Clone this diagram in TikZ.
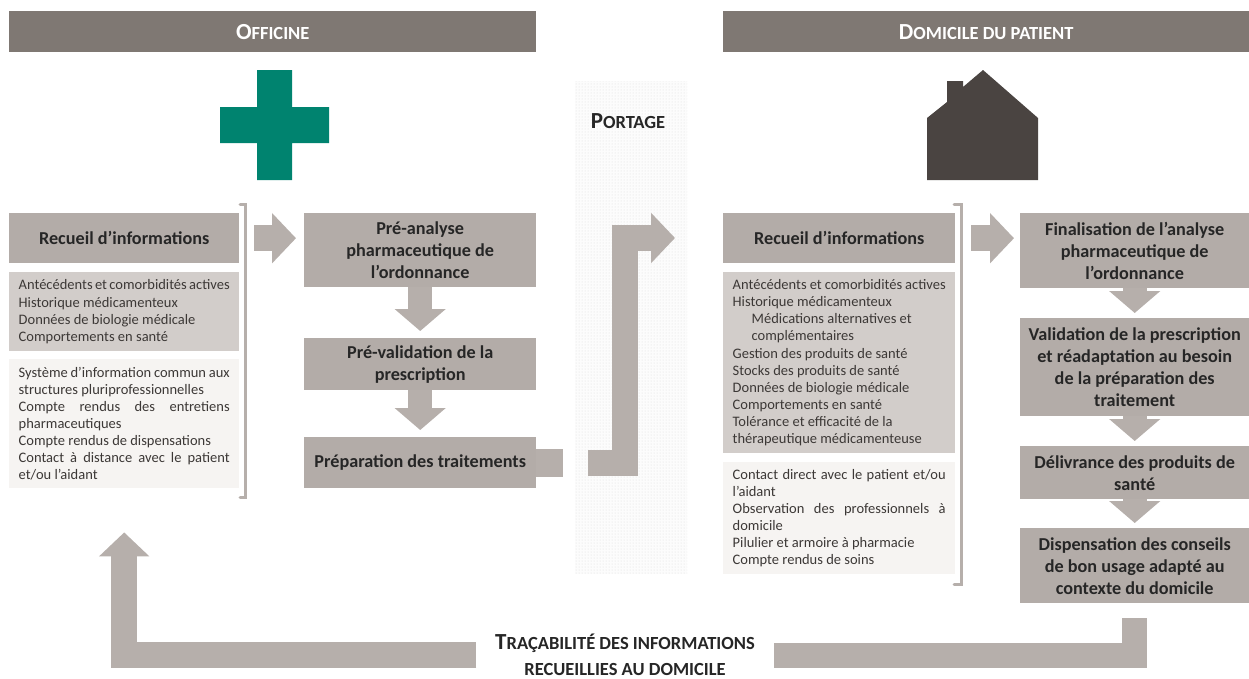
\documentclass[tikz,border=0pt]{standalone}
\usepackage{fontspec}
\setmainfont{Carlito}
\usetikzlibrary{calc,arrows.meta,patterns}

\definecolor{barcolor}{HTML}{7F7873}
\definecolor{boxcolor}{HTML}{B3ACA8}
\definecolor{listcolor}{HTML}{D2CDCA}
\definecolor{palecolor}{HTML}{F6F4F2}
\definecolor{arrowcolor}{HTML}{B6AFAB}
\definecolor{crosscolor}{HTML}{00836F}
\definecolor{housecolor}{HTML}{4A4441}
\definecolor{inkcolor}{HTML}{3C3836}

\newcommand{\lowc}[1]{{\fontsize{18.5}{18.5}\selectfont #1}}

\tikzset{
	titlebar/.style={fill=barcolor, text=white, font=\fontsize{23}{24}\selectfont\bfseries, minimum height=41pt, inner sep=0pt, anchor=north west},
	titletext/.style={text=black!85, font=\fontsize{23}{26}\selectfont\bfseries, align=center, inner sep=0pt},
	stepbox/.style={fill=boxcolor, text=black!85, font=\fontsize{18.2}{22}\selectfont\bfseries, align=center, inner sep=2pt, anchor=north west},
	listbox/.style={fill=listcolor, text=inkcolor, font=\fontsize{14.5}{17.1}\selectfont, align=justify, inner xsep=9.5pt, inner ysep=0pt, anchor=north west},
	downarrow/.style={draw=arrowcolor, line width=#1, -{Triangle[length=22pt, width=50pt, fill=arrowcolor]}},
	bigarrow/.style={draw=arrowcolor, line width=26pt, miter limit=10, -{Triangle[length=24pt, width=49pt, fill=arrowcolor]}},
	bracketline/.style={draw=arrowcolor, line width=3pt, line cap=round}
}

\begin{document}
\begin{tikzpicture}[x=1pt, y=-1pt]

		\pgfmathsetmacro{\listwidth}{230}
		\pgfmathsetmacro{\stepwidth}{229}
		\useasboundingbox (0,0) rectangle (1249,678);

		% strip behind the middle arrow
		\fill[white!99!black] (575,81) rectangle (687,574);
		\fill[pattern=dots, pattern color=black!14] (575,81) rectangle (687,574);

		% title bars
		\node[titlebar, minimum width=527pt] (officine) at (9,11) {O\lowc{FFICINE}};
		\node[titlebar, minimum width=526pt] (domicile) at (723,11) {D\lowc{OMICILE DU PATIENT}};
		\node[titletext] (portage) at (628,121) {P\lowc{ORTAGE}};

		% cross
		\fill[crosscolor] (257,70) -- (292,70) -- (292,107) -- (329,107) -- (329,143) -- (292,143) -- (292,180) -- (257,180) -- (257,143) -- (220,143) -- (220,107) -- (257,107) -- cycle;
		% house
		\fill[housecolor] (927,180) -- (927,118) -- (947,102) -- (947,81) -- (963,81) -- (963,87) -- (983,70) -- (1038,118) -- (1038,180) -- cycle;

		% left column
		\node[stepbox, minimum width=\listwidth pt, minimum height=50pt] (recueilofficine) at (9,213) {Recueil d’informations};
		\node[listbox, text width={\listwidth-19}, minimum height=79pt] (activesofficine) at (9,272) {Antécédents et comorbidités actives\newline
			Historique médicamenteux\newline
			Données de biologie médicale\newline
			Comportements en santé};
		\node[listbox, fill=palecolor, text width={\listwidth-19}, minimum height=129pt] (partageofficine) at (9,359) {Système d’information commun aux\linebreak
			structures pluriprofessionnelles\par
			Compte rendus des entretiens\linebreak
			pharmaceutiques\par
			Compte rendus de dispensations\par
			Contact à distance avec le patient\linebreak
			et/ou l’aidant};
		\draw[bracketline] (240,204) -- (245.5,204) -- (245.5,497) -- (240,497);

		% middle column
		\node[stepbox, minimum width=232pt, minimum height=74pt] (preanalyse) at (304,213) {Pré-analyse\\pharmaceutique de\\l’ordonnance};
		\node[stepbox, minimum width=232pt, minimum height=52pt] (prevalidation) at (304,338) {Pré-validation de la\\prescription};
		\node[stepbox, minimum width=232pt, minimum height=51pt] (preparation) at (304,437) {Préparation des traitements};

		% right list column
		\node[stepbox, minimum width=232pt, minimum height=50pt] (recueildomicile) at (723,213) {Recueil d’informations};
		\node[listbox, text width=213pt, minimum height=181pt] (activesdomicile) at (723,272) {Antécédents et comorbidités actives\newline
			Historique médicamenteux\par
			{\leftskip=19pt Médications alternatives et\newline
			complémentaires\par}
			Gestion des produits de santé\newline
			Stocks des produits de santé\newline
			Données de biologie médicale\newline
			Comportements en santé\newline
			Tolérance et efficacité de la\newline
			thérapeutique médicamenteuse};
		\node[listbox, fill=palecolor, text width=213pt, minimum height=112pt] (contactdomicile) at (723,462) {Contact direct avec le patient et/ou\linebreak
			l’aidant\par
			Observation des professionnels à\linebreak
			domicile\par
			Pilulier et armoire à pharmacie\par
			Compte rendus de soins};
		\draw[bracketline] (954,204) -- (961,204) -- (961,584) -- (954,584);

		% right step column
		\node[stepbox, minimum width=\stepwidth pt, minimum height=75pt] (finalisation) at (1020,213) {Finalisation de l’analyse\\pharmaceutique de\\l’ordonnance};
		\node[stepbox, minimum width=\stepwidth pt, minimum height=98pt] (validation) at (1020,318) {Validation de la prescription\\et réadaptation au besoin\\de la préparation des\\traitement};
		\node[stepbox, minimum width=\stepwidth pt, minimum height=53pt] (delivrance) at (1020,446) {Délivrance des produits de\\santé};
		\node[stepbox, minimum width=\stepwidth pt, minimum height=75pt] (dispensation) at (1020,528) {Dispensation des conseils\\de bon usage adapté au\\contexte du domicile};

		% bottom label
		\node[titletext, minimum width=297pt] (tracabilite) at (625,655) {T\lowc{RAÇABILITÉ DES INFORMATIONS}\\\lowc{RECUEILLIES AU DOMICILE}};

		% arrows between the steps
		\foreach \from/\to in {preanalyse/prevalidation, prevalidation/preparation}
		{
			\draw[downarrow=24pt, shorten >=7pt] (\from.south) -- (\to.north);
		}
		\foreach \from/\to in {finalisation/validation, validation/delivrance, delivrance/dispensation}
		{
			\draw[downarrow=24pt, shorten >=5pt] (\from.south) -- (\to.north);
		}

		% arrows leaving the brackets
		\draw[bigarrow, shorten <=15pt, shorten >=8pt] (recueilofficine.east) -- (recueilofficine.east -| preanalyse.west);
		\draw[bigarrow, shorten <=16pt, shorten >=6pt] (recueildomicile.east) -- (recueildomicile.east -| finalisation.west);

		% arrow across the strip
		\coordinate (stubend) at ($(preparation.east)+(27,0)$);
		\coordinate (portagestart) at ($(stubend)+(25,0)$);
		\coordinate (portageturn) at (625,238);
		\coordinate (portageend) at (675,238);
		\draw[draw=arrowcolor, line width=28pt] (preparation.east) -- (stubend);
		\draw[bigarrow] (portagestart) -| (portageturn) -- (portageend);

		% arrows of the bottom loop
		\draw[draw=arrowcolor, line width=25pt, shorten <=15pt] (dispensation.south) |- (tracabilite.east);
		\draw[bigarrow, shorten >=44pt] (tracabilite.west) -| (partageofficine.south);

\end{tikzpicture}
\end{document}
